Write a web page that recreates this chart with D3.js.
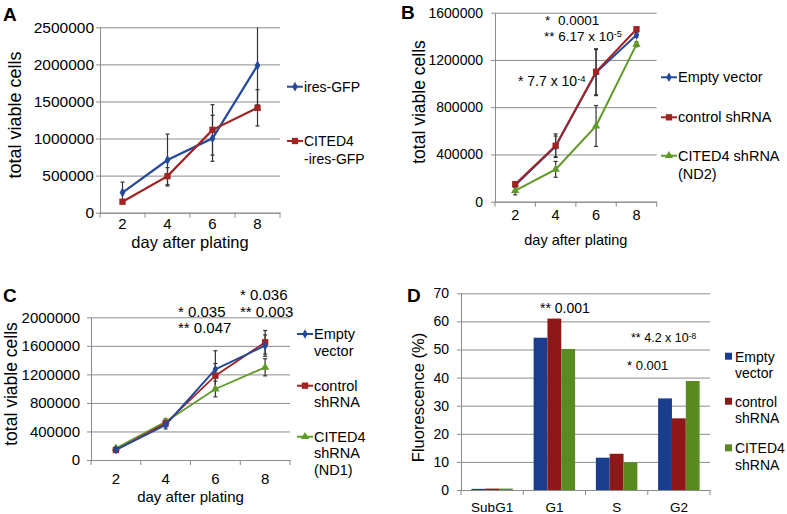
<!DOCTYPE html>
<html>
<head>
<meta charset="utf-8">
<script src="https://cdn.jsdelivr.net/npm/d3@7"></script>
<style>
body {margin:0; background:#fff;}
text {font-family:"Liberation Sans", Arial, sans-serif; fill:#000;}
</style>
</head>
<body>
<script>
// ---- data ----
var days=[2,4,6,8];

// panel A
var aTicks=[0,500000,1000000,1500000,2000000,2500000];
var aIresGFP=[272000,710000,1003000,1985000];
var aIresGFPErr=[140000,350000,310000,530000];
var aCited4=[148000,493000,1117000,1414000];
var aCited4Err=[20000,115000,340000,245000];

// panel B
var bTicks=[0,400000,800000,1200000,1600000];
var bEmpty=[140000,468000,1093000,1411000];
var bEmptyErr=[20000,88000,195000,20000];
var bControl=[148000,474000,1100000,1460000];
var bControlErr=[20000,100000,195000,15000];
var bCited4=[93000,274000,641000,1332000];
var bCited4Err=[35000,67000,173000,20000];

// panel C
var cTicks=[0,400000,800000,1200000,1600000,2000000];
var cEmpty=[142000,491000,1271000,1603000];
var cEmptyErr=[25000,55000,260000,150000];
var cControl=[140000,514000,1182000,1650000];
var cControlErr=[20000,50000,170000,165000];
var cCited4=[164000,537000,995000,1299000];
var cCited4Err=[20000,40000,110000,120000];

// panel D
var dPhases=["SubG1","G1","S","G2"];
var dTicks=[0,10,20,30,40,50,60,70];
var dEmpty=[0.4,54.2,11.5,32.6];
var dControl=[0.5,61.0,12.9,25.5];
var dCited4=[0.5,50.2,9.9,38.8];

var BLUE='#24489a', RED='#a02424', GREEN='#5f9a28';
var BAR_BLUE='#1b3d8d', BAR_RED='#8e1818', BAR_GREEN='#5a8b20';
var GRID='#8c8c8c';

var svg=d3.select("body").append("svg").attr("width",787).attr("height",514);

function styleAxis(g,fontSize) {
    g.select(".domain").attr("stroke",GRID);
    g.selectAll(".tick line").attr("stroke",GRID);
    g.selectAll("text").attr("font-size",fontSize).attr("font-family","Liberation Sans, Arial, sans-serif").attr("fill","#000");
}

function lineChart(o) {
    var g=svg.append("g");
    var x=d3.scaleBand().domain(days).range([o.left,o.right]);
    var y=d3.scaleLinear().domain([0,o.yMax]).range([o.bottom,o.top]);
    var w=o.right-o.left;

    // y axis with gridlines
    var ya=g.append("g").attr("transform","translate("+o.left+",0)")
        .call(d3.axisLeft(y).tickValues(o.yTicks).tickSizeInner(-w).tickSizeOuter(0).tickPadding(o.yPad).tickFormat(d3.format("d")));
    styleAxis(ya,o.tickFont);
    ya.selectAll(".tick line").attr("x1",-4);

    // x axis (labels centered in bands), tick marks at the band edges
    var xa=g.append("g").attr("transform","translate(0,"+o.bottom+")")
        .call(d3.axisBottom(x).tickSize(0).tickPadding(o.xPad).tickSizeOuter(0));
    styleAxis(xa,o.xFont);
    xa.selectAll("text").attr("dy","0.71em");
    var edges=days.map(function(d){return x(d);}).concat([o.right]);
    g.selectAll(null).data(edges).enter().append("line")
        .attr("x1",function(d){return d;}).attr("x2",function(d){return d;})
        .attr("y1",o.bottom).attr("y2",o.bottom+5).attr("stroke",GRID);

    // axis titles
    g.append("text").attr("x",(o.left+o.right)/2).attr("y",o.xTitleY)
        .attr("text-anchor","middle").style("font-size",o.xTitleFont+"px").text("day after plating");
    g.append("text").attr("transform","translate("+o.yTitleX+","+o.yTitleY+") rotate(-90)")
        .attr("text-anchor","middle").attr("dy","0.35em").style("font-size",o.yTitleFont+"px").text("total viable cells");

    var cx=function(i){return x(days[i])+x.bandwidth()/2;};
    var clampY=function(v){return y(Math.max(0,Math.min(o.yMax,v)));};

    // error bars first, lines and markers on top
    o.series.forEach(function(s) {
        var eg=g.append("g");
        s.values.forEach(function(v,i) {
            var e=s.errs[i];
            var top=clampY(v+e), bot=clampY(v-e);
            eg.append("line").attr("x1",cx(i)).attr("x2",cx(i)).attr("y1",top).attr("y2",bot).attr("stroke","#333").attr("stroke-width",1.2);
            if (v+e<=o.yMax)
                eg.append("line").attr("x1",cx(i)-2).attr("x2",cx(i)+2).attr("y1",top).attr("y2",top).attr("stroke","#333").attr("stroke-width",1.2);
            eg.append("line").attr("x1",cx(i)-2).attr("x2",cx(i)+2).attr("y1",bot).attr("y2",bot).attr("stroke","#333").attr("stroke-width",1.2);
        });
    });
    o.series.forEach(function(s) {
        var line=d3.line().x(function(d,i){return cx(i);}).y(function(d){return y(d);});
        g.append("path").attr("d",line(s.values)).attr("fill","none").attr("stroke",s.color).attr("stroke-width",o.lineWidth);
        g.selectAll(null).data(s.values).enter().append("path")
            .attr("d",d3.symbol().type(s.symbol).size(s.size))
            .attr("transform",function(d,i){return "translate("+cx(i)+","+y(d)+")";})
            .attr("fill",s.color);
    });

    // legend
    o.series.forEach(function(s) {
        var lg=g.append("g");
        lg.append("line").attr("x1",o.legX).attr("x2",o.legX+16).attr("y1",s.legY).attr("y2",s.legY)
            .attr("stroke",s.color).attr("stroke-width",2);
        lg.append("path").attr("d",d3.symbol().type(s.symbol).size(s.size))
            .attr("transform","translate("+(o.legX+8)+","+s.legY+")").attr("fill",s.color);
        s.label.forEach(function(t,k) {
            lg.append("text").attr("x",o.legX+17).attr("y",s.legY+k*o.legLine)
                .attr("dy","0.35em").style("font-size",o.legFont+"px").text(t);
        });
    });
    return g;
}

// note with an optional superscript
function note(x,y,size,main,sup) {
    var t=svg.append("text").attr("x",x).attr("y",y).attr("dy","0.35em").style("font-size",size+"px");
    t.append("tspan").text(main);
    if (sup) t.append("tspan").attr("dy","-0.45em").style("font-size",(size*0.68)+"px").text(sup);
    return t;
}

function panelLetter(x,y,l) {
    svg.append("text").attr("x",x).attr("y",y).style("font-size","19px").style("font-weight","bold").text(l);
}

// ---- A ----
lineChart({left:100,right:280,top:27.3,bottom:212.7,yMax:2500000,yTicks:aTicks,yPad:6,
    tickFont:"15.5px",xFont:"15px",xPad:6,xTitleY:248,xTitleFont:16.5,yTitleX:15,yTitleY:115,yTitleFont:18,lineWidth:2.2,
    legX:287,legFont:14,legLine:18.3,
    series:[
        {values:aIresGFP,errs:aIresGFPErr,color:BLUE,symbol:d3.symbolDiamond,size:28,label:["ires-GFP"],legY:86.7},
        {values:aCited4,errs:aCited4Err,color:RED,symbol:d3.symbolSquare,size:40,label:["CITED4","-ires-GFP"],legY:141}
    ]});
panelLetter(3,21,"A");

// ---- B ----
lineChart({left:495,right:656.7,top:12.7,bottom:201.7,yMax:1600000,yTicks:bTicks,yPad:12,
    tickFont:"14px",xFont:"14.5px",xPad:8,xTitleY:245,xTitleFont:14.5,yTitleX:419,yTitleY:102,yTitleFont:17.5,lineWidth:2,
    legX:661,legFont:14.5,legLine:18.3,
    series:[
        {values:bEmpty,errs:bEmptyErr,color:BLUE,symbol:d3.symbolDiamond,size:26,label:["Empty vector"],legY:77.3},
        {values:bCited4,errs:bCited4Err,color:GREEN,symbol:d3.symbolTriangle,size:30,label:["CITED4 shRNA","(ND2)"],legY:155.7},
        {values:bControl,errs:bControlErr,color:RED,symbol:d3.symbolSquare,size:40,label:["control shRNA"],legY:117.3}
    ]});
panelLetter(401,19,"B");
svg.append("text").attr("x",545).attr("y",20.7).attr("dy","0.35em").style("font-size","13.5px").text("*");
note(558,20.7,13.5,"0.0001");
note(544,36.7,13.5,"** 6.17 x 10","-5");
note(518,81,14,"* 7.7 x 10","-4");

// ---- C ----
lineChart({left:91,right:290,top:317.3,bottom:460,yMax:2000000,yTicks:cTicks,yPad:11,
    tickFont:"15px",xFont:"15px",xPad:13,xTitleY:502,xTitleFont:15,yTitleX:11,yTitleY:384,yTitleFont:17.5,lineWidth:1.8,
    legX:297,legFont:14.5,legLine:16.5,
    series:[
        {values:cCited4,errs:cCited4Err,color:GREEN,symbol:d3.symbolTriangle,size:30,label:["CITED4","shRNA","(ND1)"],legY:436.7},
        {values:cControl,errs:cControlErr,color:RED,symbol:d3.symbolSquare,size:40,label:["control","shRNA"],legY:385.7},
        {values:cEmpty,errs:cEmptyErr,color:BLUE,symbol:d3.symbolDiamond,size:26,label:["Empty","vector"],legY:334}
    ]});
panelLetter(3,302,"C");
note(178,312,15,"* 0.035");
note(178,328,15,"** 0.047");
note(240,295,15,"* 0.036");
note(240,312,15,"** 0.003");

// ---- D ----
(function() {
    var left=461,right=710,top=293.3,bottom=490;
    var g=svg.append("g");
    var x0=d3.scaleBand().domain(dPhases).range([left,right]);
    var keys=["empty","control","cited4"];
    var x1=d3.scaleBand().domain(keys).range([0,x0.bandwidth()]).paddingOuter(0.75);
    var y=d3.scaleLinear().domain([0,70]).range([bottom,top]);
    var colors={empty:BAR_BLUE,control:BAR_RED,cited4:BAR_GREEN};
    var vals={empty:dEmpty,control:dControl,cited4:dCited4};

    var ya=g.append("g").attr("transform","translate("+left+",0)")
        .call(d3.axisLeft(y).tickValues(dTicks).tickSizeInner(-(right-left)).tickSizeOuter(0).tickPadding(12));
    styleAxis(ya,"14px");
    ya.selectAll(".tick line").attr("x1",-4);

    keys.forEach(function(k) {
        g.selectAll(null).data(vals[k]).enter().append("rect")
            .attr("x",function(d,i){return x0(dPhases[i])+x1(k);})
            .attr("width",x1.bandwidth())
            .attr("y",function(d){return y(d);})
            .attr("height",function(d){return bottom-y(d);})
            .attr("fill",colors[k]);
    });

    var xa=g.append("g").attr("transform","translate(0,"+bottom+")")
        .call(d3.axisBottom(x0).tickSize(0).tickPadding(12).tickSizeOuter(0));
    styleAxis(xa,"13.5px");
    xa.selectAll("text").attr("dy","0.71em");
    var edges=dPhases.map(function(d){return x0(d);}).concat([right]);
    g.selectAll(null).data(edges).enter().append("line")
        .attr("x1",function(d){return d;}).attr("x2",function(d){return d;})
        .attr("y1",bottom).attr("y2",bottom+5).attr("stroke",GRID);

    g.append("text").attr("transform","translate(418,397.5) rotate(-90)")
        .attr("text-anchor","middle").attr("dy","0.35em").style("font-size","16.5px").text("Fluorescence (%)");

    var leg=[{k:"empty",label:["Empty","vector"],y:356.7},{k:"control",label:["control","shRNA"],y:401.7},{k:"cited4",label:["CITED4","shRNA"],y:448.3}];
    leg.forEach(function(l) {
        g.append("rect").attr("x",725).attr("y",l.y-4).attr("width",7).attr("height",7).attr("fill",colors[l.k]);
        l.label.forEach(function(t,i) {
            g.append("text").attr("x",735).attr("y",l.y+i*16.8).attr("dy","0.35em").style("font-size","14px").text(t);
        });
    });
})();
panelLetter(407,302,"D");
note(540,307.7,14,"** 0.001");
note(631,338,12.5,"** 4.2 x 10","-8");
note(627,365,13,"* 0.001");
</script>
</body>
</html>
